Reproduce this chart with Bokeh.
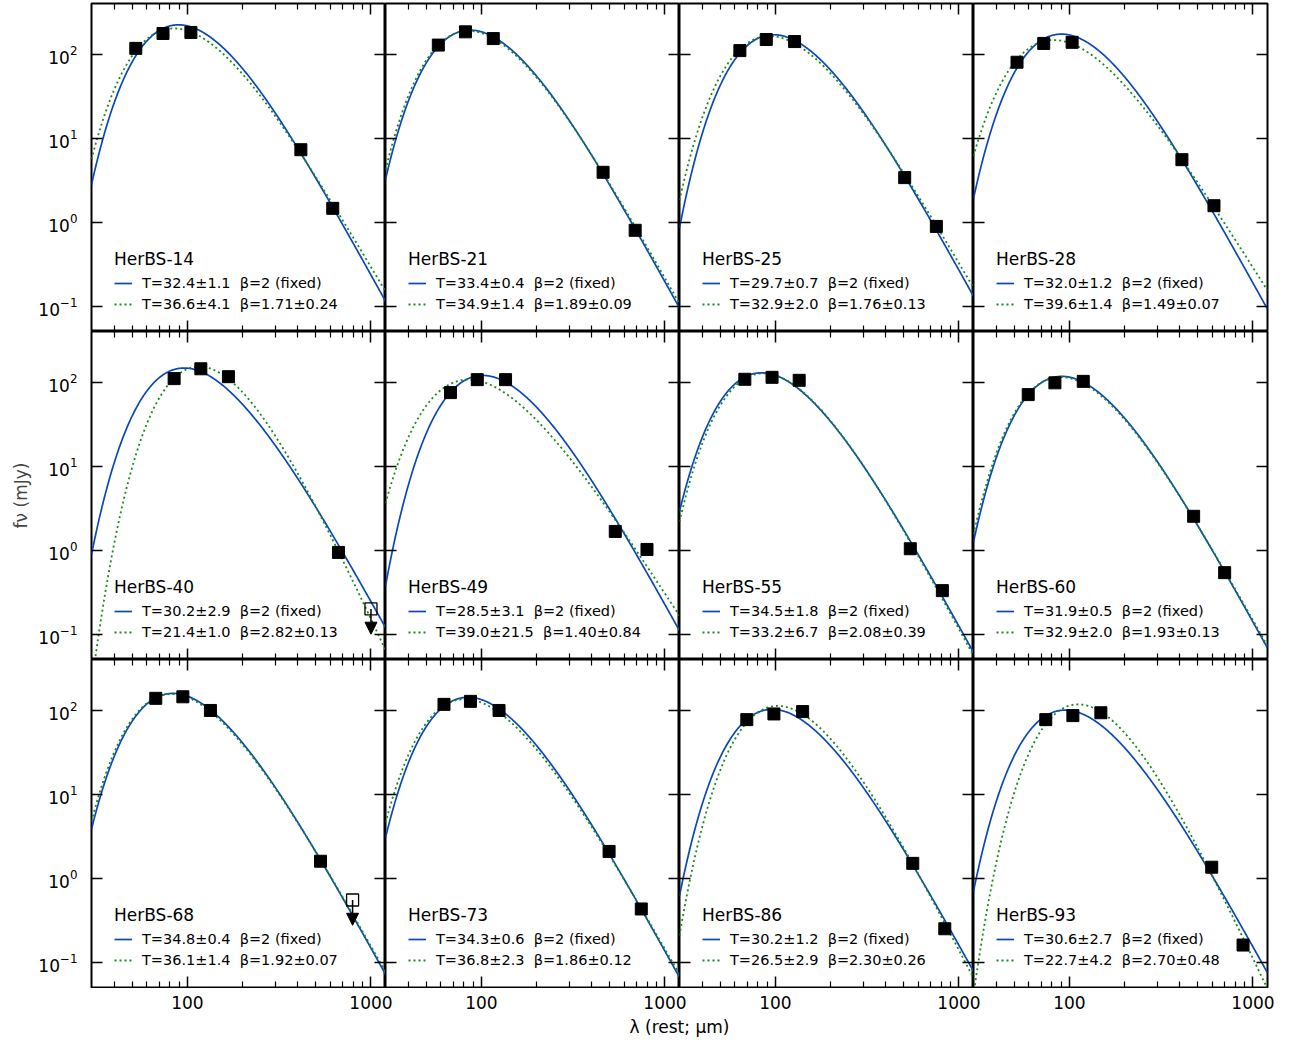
import numpy as np
from bokeh.plotting import figure
from bokeh.models import (Range1d, LogAxis, FixedTicker, LogTickFormatter, Legend, LegendItem,
                          ColumnDataSource, Arrow, NormalHead, Label, LogScale)
from bokeh.layouts import column, row
from bokeh.core.properties import value
from bokeh.embed import file_html
from bokeh.resources import INLINE

# ---------------- data ----------------
names = ["HerBS-14", "HerBS-21", "HerBS-25", "HerBS-28",
         "HerBS-40", "HerBS-49", "HerBS-55", "HerBS-60",
         "HerBS-68", "HerBS-73", "HerBS-86", "HerBS-93"]
redshift = [3.78, 3.30, 2.92, 3.83, 1.97, 2.69, 2.68, 3.20, 2.73, 3.01, 2.57, 2.36]

T_fixed = [32.4, 33.4, 29.7, 32.0, 30.2, 28.5, 34.5, 31.9, 34.8, 34.3, 30.2, 30.6]
T_fixed_err = [1.1, 0.4, 0.7, 1.2, 2.9, 3.1, 1.8, 0.5, 0.4, 0.6, 1.2, 2.7]
beta_fixed = 2.0
T_free = [36.6, 34.9, 32.9, 39.6, 21.4, 39.0, 33.2, 32.9, 36.1, 36.8, 26.5, 22.7]
T_free_err = [4.1, 1.4, 2.0, 1.4, 1.0, 21.5, 6.7, 2.0, 1.4, 2.3, 2.9, 4.2]
beta_free = [1.71, 1.89, 1.76, 1.49, 2.82, 1.40, 2.08, 1.93, 1.92, 1.86, 2.30, 2.70]
beta_free_err = [0.24, 0.09, 0.13, 0.07, 0.13, 0.84, 0.39, 0.13, 0.07, 0.12, 0.26, 0.48]
# peak flux density of each model curve (mJy)
peak_fixed = [223, 193, 170, 173, 147, 120, 129, 117, 158, 142, 102, 100]
peak_free = [202, 189, 164, 147, 153, 107, 127, 115, 155, 135, 112, 117]

# photometry: rest-frame wavelength (um) and flux density (mJy)
lam_rest = [
    [52.3, 73.6, 104.4, 415, 619],
    [58.2, 81.8, 116.0, 460, 688],
    [64.0, 89.1, 127.1, 506, 753],
    [51.8, 72.4, 103.4, 410, 613],
    [84.6, 118.3, 167.2, 665],
    [67.8, 94.9, 135.3, 536, 798],
    [68.1, 95.8, 134.7, 543, 812],
    [59.6, 83.3, 118.9, 475, 701],
    [67.2, 94.4, 133.4, 531],
    [62.5, 87.1, 124.7, 496, 743],
    [69.8, 98.1, 140.6, 560, 837],
    [74.3, 104.4, 148.3, 596, 883],
]
flux = [
    [117, 176, 181, 7.28, 1.46],
    [128, 184, 153, 3.92, 0.80],
    [110, 149, 141, 3.39, 0.89],
    [80, 134, 138, 5.54, 1.57],
    [110, 144, 116, 0.94],
    [75, 107, 107, 1.67, 1.02],
    [108, 114, 105, 1.04, 0.33],
    [71, 98, 102, 2.53, 0.54],
    [138, 144, 99, 1.59],
    [117, 127, 99, 2.08, 0.43],
    [77, 90, 96, 1.50, 0.25],
    [77, 86, 93, 1.35, 0.16],
]
# upper limits
limit_panel = [4, 8]
limit_lam = [1000, 794]
limit_flux = [0.20, 0.55]
limit_arrow_end = [0.10, 0.275]

x_major = [100, 1000]
x_minor = [40, 50, 60, 70, 80, 90, 200, 300, 400, 500, 600, 700, 800, 900]
x_labels = ["100", "1000"]
y_major = [0.1, 1, 10, 100]

# ---------------- style ----------------
FONT = "DejaVu Sans"
BLUE = "#0a48b8"
GREEN = "#1a8a1a"
PW, PH = 294, 328
LEFT, RIGHT = 91, 12
TOP = 3
XR = (30, 1200)
YR = (0.05, 400)
TOTAL_W = LEFT + 4 * PW + RIGHT
STRIP_H = 52

lam_grid = np.logspace(np.log10(XR[0]), np.log10(XR[1]), 500)


def mbb(lam, T, beta, z, peak):
    x = 14387.77 / (lam * T)
    xc = 14387.77 / (lam * 2.725 * (1 + z))
    s = (1.0 / lam) ** (3 + beta) * (1.0 / np.expm1(x) - 1.0 / np.expm1(xc))
    return s * peak / s.max()


def style_axis(ax, is_x, show_labels):
    ax.ticker = FixedTicker(ticks=x_major, minor_ticks=x_minor) if is_x else FixedTicker(ticks=y_major, minor_ticks=[])
    ax.major_tick_in = 11
    ax.major_tick_out = 0
    ax.minor_tick_in = 6
    ax.minor_tick_out = 0
    ax.major_tick_line_width = 1.5
    ax.minor_tick_line_width = 1.2
    ax.major_tick_line_color = "black"
    ax.minor_tick_line_color = "black"
    ax.axis_line_color = None
    if show_labels:
        ax.major_label_text_font = FONT
        ax.major_label_text_font_size = "17px"
        ax.major_label_text_color = "black"
        ax.major_label_standoff = 14
    else:
        ax.major_label_text_color = None
        ax.major_label_standoff = 0


rows = []
for r in range(3):
    figs = []
    for c in range(4):
        i = r * 4 + c
        ml = LEFT if c == 0 else 0
        mr = RIGHT if c == 3 else 0
        mt = TOP if r == 0 else 0
        mb = 1 if r == 2 else 0
        p = figure(width=PW + ml + mr, height=PH + mt + mb,
                   x_axis_type="log", y_axis_type="log",
                   x_range=Range1d(*XR), y_range=Range1d(*YR),
                   toolbar_location=None, output_backend="svg",
                   min_border=0, min_border_left=ml, min_border_right=mr,
                   min_border_top=mt, min_border_bottom=mb)
        p.grid.visible = False
        p.outline_line_color = "black"
        p.outline_line_width = 2
        p.background_fill_color = "white"
        p.border_fill_color = "white"
        p.add_layout(LogAxis(), "right")
        p.add_layout(LogAxis(), "above")
        for ax in p.xaxis:
            style_axis(ax, True, False)
        for ax in p.yaxis:
            style_axis(ax, False, False)
        if c == 0:
            left = p.left[0]
            style_axis(left, False, True)
            left.formatter = LogTickFormatter()
            if r == 1:
                left.axis_label = "fν (mJy)"
                left.axis_label_text_font = FONT
                left.axis_label_text_font_size = "17px"
                left.axis_label_text_font_style = "normal"
                left.axis_label_standoff = 4

        z = redshift[i]
        yb = mbb(lam_grid, T_fixed[i], beta_fixed, z, peak_fixed[i])
        yg = mbb(lam_grid, T_free[i], beta_free[i], z, peak_free[i])
        rb = p.line(lam_grid, yb, line_color=BLUE, line_width=1.7)
        rg = p.line(lam_grid, yg, line_color=GREEN, line_width=1.8, line_dash="2 3")
        p.scatter(lam_rest[i], flux[i], marker="square", size=12,
                  fill_color="black", line_color="black")

        for k, pi in enumerate(limit_panel):
            if pi == i:
                src = ColumnDataSource(dict(x0=[limit_lam[k]], y0=[limit_flux[k]],
                                            x1=[limit_lam[k]], y1=[limit_arrow_end[k]]))
                p.add_layout(Arrow(end=NormalHead(size=12, fill_color="black", line_color="black"),
                                   x_start="x0", y_start="y0", x_end="x1", y_end="y1",
                                   source=src, line_width=1.5, line_color="black"))
                p.scatter([limit_lam[k]], [limit_flux[k]], marker="square", size=12,
                          fill_color=None, line_color="black", line_width=1.3)

        lab_b = f"T={T_fixed[i]:.1f}±{T_fixed_err[i]:.1f}\u00a0 β=2 (fixed)"
        lab_g = f"T={T_free[i]:.1f}±{T_free_err[i]:.1f}\u00a0 β={beta_free[i]:.2f}±{beta_free_err[i]:.2f}"
        leg = Legend(items=[LegendItem(label=lab_b, renderers=[rb]),
                            LegendItem(label=lab_g, renderers=[rg])],
                     title=names[i], location=(23, 18))
        leg.title_text_font = FONT
        leg.title_text_font_size = "17px"
        leg.title_text_font_style = "normal"
        leg.title_text_color = "black"
        leg.title_standoff = 5
        leg.label_text_font = FONT
        leg.label_text_font_size = "14.5px"
        leg.label_text_color = "black"
        leg.border_line_color = None
        leg.background_fill_alpha = 0
        leg.padding = 0
        leg.margin = 0
        leg.spacing = 3
        leg.glyph_height = 18
        leg.glyph_width = 18
        leg.label_height = 18
        leg.label_standoff = 10
        p.add_layout(leg)
        figs.append(p)
    rows.append(row(*figs))

# strip with x tick labels and x-axis title (frame spans the full width)
strip = figure(width=TOTAL_W, height=STRIP_H,
               x_range=Range1d(0, TOTAL_W), y_range=Range1d(0, STRIP_H),
               toolbar_location=None, output_backend="svg",
               min_border=0, x_axis_location=None, y_axis_location=None)
strip.grid.visible = False
strip.outline_line_color = None
ratio = XR[1] / XR[0]
for k in range(4):
    name = f"c{k}"
    start = XR[0] * ratio ** (-(LEFT + k * PW) / PW)
    strip.extra_x_ranges[name] = Range1d(start, start * ratio ** (TOTAL_W / PW))
    strip.extra_x_scales[name] = LogScale()
    strip.text(x=x_major, y=[STRIP_H - 14] * 2, text=x_labels, x_range_name=name,
               text_align="center", text_baseline="middle",
               text_font=value(FONT), text_font_size=value("17px"), text_color="black")
strip.add_layout(Label(x=LEFT + 2 * PW, y=STRIP_H - 38, text="λ (rest; μm)", text_align="center",
                       text_baseline="middle", text_font=FONT, text_font_size="17px",
                       text_color="black"))

layout = column(*rows, strip)
open("out.html", "w").write(file_html(layout, INLINE))
